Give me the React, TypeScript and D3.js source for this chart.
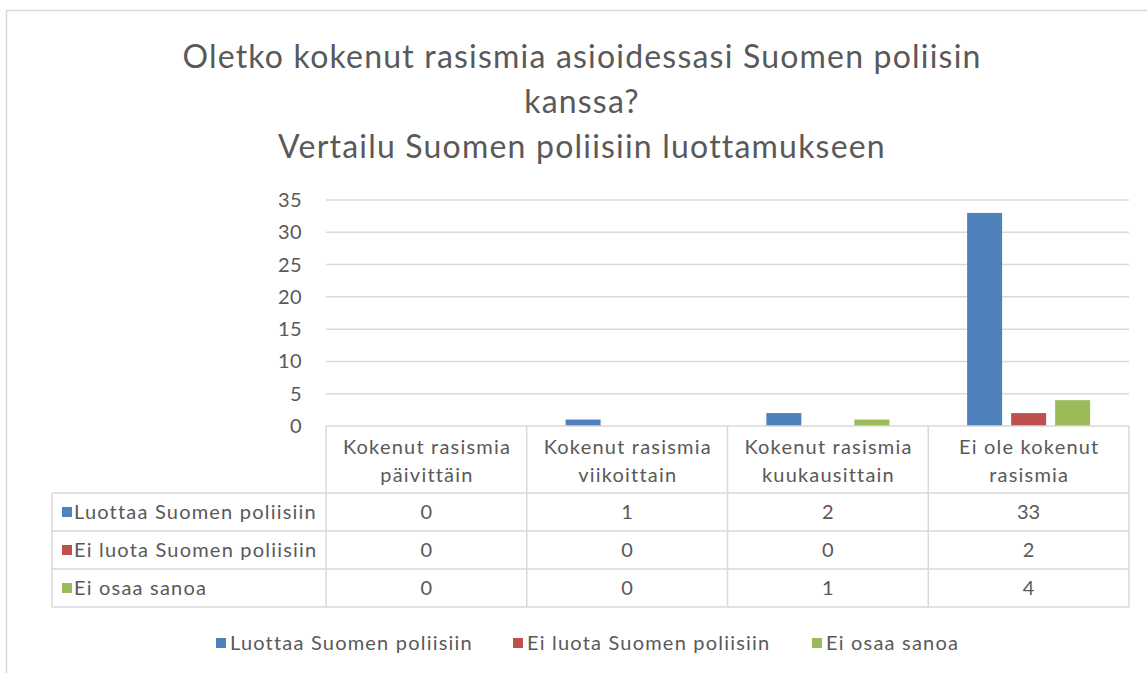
import React, { useEffect, useRef } from "react";
import * as d3 from "d3";

const titleLines = [
  "Oletko kokenut rasismia asioidessasi Suomen poliisin",
  "kanssa?",
  "Vertailu Suomen poliisiin luottamukseen",
];
const categories = [
  ["Kokenut rasismia", "päivittäin"],
  ["Kokenut rasismia", "viikoittain"],
  ["Kokenut rasismia", "kuukausittain"],
  ["Ei ole kokenut", "rasismia"],
];
const seriesNames = ["Luottaa Suomen poliisiin", "Ei luota Suomen poliisiin", "Ei osaa sanoa"];
const seriesColors = ["#4f81bd", "#c0504d", "#9bbb59"];
const luottaa = [0, 1, 2, 33];
const eiLuota = [0, 0, 0, 2];
const eiOsaa = [0, 0, 1, 4];
const yTicks = [0, 5, 10, 15, 20, 25, 30, 35];

const FONT = "Lato, 'Open Sans', sans-serif";
const TXT = "#595959";
const GRID = "#d9d9d9";
const FS = 20; // small text size
const LS = 1.2; // letter spacing for small text

export default function App() {
  const node = useRef<SVGSVGElement>(null);

  useEffect(() => {
    const svg = d3.select(node.current);
    svg.selectAll("*").remove();
    const series = [luottaa, eiLuota, eiOsaa];

    const left = 326, right = 1129, top = 200, base = 426;
    const tableLeft = 52, headerBottom = 493, rowH = 38;

    const x = d3.scaleBand<number>().domain(d3.range(categories.length)).range([left, right]);
    const xs = d3.scaleBand<number>().domain(d3.range(series.length))
      .range([0, x.bandwidth()]).paddingInner(0.2045).paddingOuter(0.883);
    const y = d3.scaleLinear().domain([0, 35]).range([base, top]);

    // chart border (cropped at right/bottom)
    svg.append("rect").attr("x", 6.5).attr("y", 10.5).attr("width", 1160).attr("height", 700)
      .attr("fill", "#fff").attr("stroke", GRID).attr("stroke-width", 1.5);

    // title
    const t = svg.append("text").attr("text-anchor", "middle").attr("fill", TXT)
      .attr("font-family", FONT).attr("font-size", 32).attr("letter-spacing", 1.2);
    titleLines.forEach((l, i) => {
      t.append("tspan").attr("x", 582).attr("y", 68 + i * 45).text(l);
    });

    // gridlines + y labels
    yTicks.forEach((v) => {
      if (v > 0) {
        svg.append("line").attr("x1", left).attr("x2", right).attr("y1", y(v)).attr("y2", y(v))
          .attr("stroke", GRID).attr("stroke-width", 1.5);
      }
      svg.append("text").attr("x", 302).attr("y", y(v)).attr("dy", "0.35em")
        .attr("text-anchor", "end").attr("fill", TXT).attr("font-family", FONT)
        .attr("font-size", FS).attr("letter-spacing", 0.4).text(v);
    });

    // bars
    series.forEach((vals, si) => {
      svg.append("g").selectAll("rect").data(vals).enter().append("rect")
        .attr("x", (d, i) => (x(i) as number) + (xs(si) as number))
        .attr("width", xs.bandwidth())
        .attr("y", (d) => y(d))
        .attr("height", (d) => base - y(d))
        .attr("fill", seriesColors[si]);
    });

    // data table
    const tableBottom = headerBottom + rowH * series.length;
    const grid = svg.append("g").attr("stroke", GRID).attr("stroke-width", 1.5);
    grid.append("line").attr("x1", left).attr("x2", right).attr("y1", base).attr("y2", base);
    for (let r = 0; r <= series.length; r++) {
      const yy = headerBottom + r * rowH;
      grid.append("line").attr("x1", tableLeft).attr("x2", right).attr("y1", yy).attr("y2", yy);
    }
    grid.append("line").attr("x1", tableLeft).attr("x2", tableLeft).attr("y1", headerBottom).attr("y2", tableBottom);
    categories.forEach((c, i) => {
      const xx = x(i) as number;
      grid.append("line").attr("x1", xx).attr("x2", xx).attr("y1", base).attr("y2", tableBottom);
    });
    grid.append("line").attr("x1", right).attr("x2", right).attr("y1", base).attr("y2", tableBottom);

    // category headers
    categories.forEach((c, i) => {
      const cx = (x(i) as number) + x.bandwidth() / 2 + LS / 2;
      const tt = svg.append("text").attr("text-anchor", "middle").attr("fill", TXT)
        .attr("font-family", FONT).attr("font-size", FS).attr("letter-spacing", LS);
      c.forEach((l, li) => {
        tt.append("tspan").attr("x", cx).attr("y", 454 + li * 28).text(l);
      });
    });

    // rows
    series.forEach((vals, si) => {
      const cy = headerBottom + si * rowH + rowH / 2;
      svg.append("rect").attr("x", 62).attr("y", cy - 5).attr("width", 10).attr("height", 10)
        .attr("fill", seriesColors[si]);
      svg.append("text").attr("x", 74).attr("y", cy).attr("dy", "0.35em").attr("fill", TXT)
        .attr("font-family", FONT).attr("font-size", FS).attr("letter-spacing", LS)
        .text(seriesNames[si]);
      vals.forEach((v, i) => {
        svg.append("text").attr("x", (x(i) as number) + x.bandwidth() / 2).attr("y", cy)
          .attr("dy", "0.35em").attr("text-anchor", "middle").attr("fill", TXT)
          .attr("font-family", FONT).attr("font-size", FS).text(v);
      });
    });

    // legend
    const legendX = [216, 513, 812];
    seriesNames.forEach((n, si) => {
      svg.append("rect").attr("x", legendX[si]).attr("y", 638).attr("width", 10).attr("height", 10)
        .attr("fill", seriesColors[si]);
      svg.append("text").attr("x", legendX[si] + 14).attr("y", 643).attr("dy", "0.35em")
        .attr("fill", TXT).attr("font-family", FONT).attr("font-size", FS)
        .attr("letter-spacing", LS).text(n);
    });
  }, []);

  return (
    <svg ref={node} width={1147} height={673}
      style={{ position: "absolute", left: 0, top: 0, background: "#fff" }} />
  );
}
